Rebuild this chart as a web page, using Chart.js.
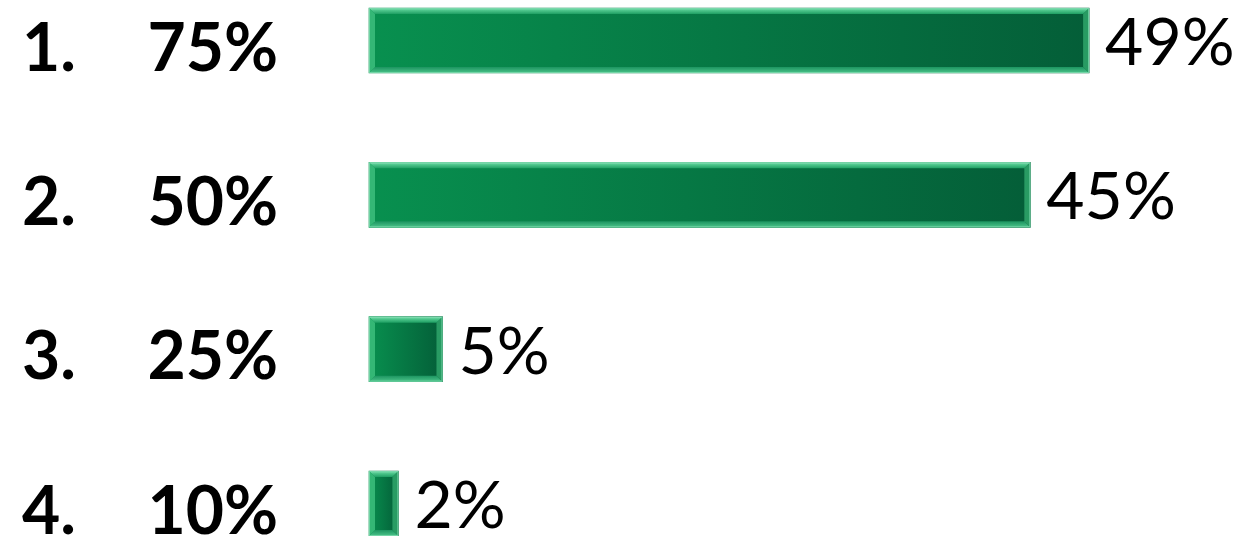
<!DOCTYPE html>
<html>
<head>
<meta charset="utf-8">
<script src="https://cdn.jsdelivr.net/npm/chart.js@4.4.1/dist/chart.umd.min.js"></script>
<style>
  html, body { margin: 0; padding: 0; background: #fff; }
  #wrap { width: 1239px; height: 536px; position: relative; }
</style>
</head>
<body>
<div id="wrap"><canvas id="chartAnswers"></canvas></div>
<script>
const ranks = ['1.', '2.', '3.', '4.'];
const answers = ['75%', '50%', '25%', '10%'];
const votes = [49, 45, 5, 2];

const FONT = 'Lato, "Open Sans", sans-serif';

// gradient per bar, light on the left, dark at the bar end
function barFill(ctx) {
  const chart = ctx.chart;
  if (!chart.chartArea || ctx.type !== 'data') return '#047a48';
  const x = chart.scales.x;
  const g = chart.ctx.createLinearGradient(x.getPixelForValue(0), 0, x.getPixelForValue(ctx.raw), 0);
  g.addColorStop(0, '#08904f');
  g.addColorStop(1, '#045e38');
  return g;
}

// bevelled edges like the office 3d bars
const bevel = {
  id: 'bevel',
  afterDatasetsDraw(chart) {
    const ctx = chart.ctx;
    const b = 6;
    chart.getDatasetMeta(0).data.forEach(bar => {
      const p = bar.getProps(['x', 'y', 'base', 'height'], true);
      const l = Math.min(p.base, p.x), r = Math.max(p.base, p.x);
      const t = p.y - p.height / 2, btm = p.y + p.height / 2;
      const s = Math.min(b, (r - l) / 3);
      const poly = (pts, fill) => {
        ctx.beginPath();
        ctx.moveTo(pts[0][0], pts[0][1]);
        pts.slice(1).forEach(q => ctx.lineTo(q[0], q[1]));
        ctx.closePath();
        ctx.fillStyle = fill;
        ctx.fill();
      };
      ctx.save();
      const gt = ctx.createLinearGradient(0, t, 0, t + s);
      gt.addColorStop(0, '#9ae9c3');
      gt.addColorStop(0.35, '#52c98f');
      gt.addColorStop(1, '#1f9f63');
      poly([[l, t], [r, t], [r - s, t + s], [l + s, t + s]], gt);
      const gb = ctx.createLinearGradient(0, btm - s, 0, btm);
      gb.addColorStop(0, '#1c9460');
      gb.addColorStop(1, '#4cc48a');
      poly([[l, btm], [r, btm], [r - s, btm - s], [l + s, btm - s]], gb);
      poly([[l, t], [l + s, t + s], [l + s, btm - s], [l, btm]], 'rgba(60,190,125,0.85)');
      poly([[r, t], [r - s, t + s], [r - s, btm - s], [r, btm]], 'rgba(50,170,110,0.8)');
      ctx.strokeStyle = 'rgba(120,215,170,0.9)';
      ctx.lineWidth = 1;
      ctx.strokeRect(l + 0.5, t + 0.5, r - l - 1, btm - t - 1);
      ctx.restore();
    });
  }
};

// value labels at the end of each bar
const valueLabels = {
  id: 'valueLabels',
  afterDatasetsDraw(chart) {
    const ctx = chart.ctx;
    const meta = chart.getDatasetMeta(0);
    ctx.save();
    ctx.font = '400 66px ' + FONT;
    ctx.fillStyle = '#000';
    ctx.textAlign = 'left';
    ctx.textBaseline = 'alphabetic';
    meta.data.forEach((bar, i) => {
      ctx.fillText(votes[i] + '%', bar.x + 16, bar.y + 24.5);
    });
    ctx.restore();
  }
};

new Chart(document.getElementById('chartAnswers'), {
  type: 'bar',
  data: {
    labels: ranks.map((r, i) => r + '\u2003\u2004' + answers[i]),
    datasets: [{
      data: votes,
      backgroundColor: barFill,
      borderWidth: 0,
      barThickness: 65,
      clip: false
    }]
  },
  options: {
    indexAxis: 'y',
    responsive: true,
    maintainAspectRatio: false,
    animation: false,
    layout: { padding: { left: 22, right: 0, top: 40.5, bottom: 32.5 } },
    plugins: { legend: { display: false }, tooltip: { enabled: false } },
    scales: {
      x: { display: false, min: 0, max: 59.2 },
      y: {
        offset: false,
        grid: { display: false, drawTicks: false },
        border: { display: false },
        afterFit(scale) { scale.width = 347; },
        ticks: {
          crossAlign: 'far',
          padding: 0,
          labelOffset: 9,
          color: '#000',
          font: { family: FONT, size: 66, weight: 'bold', lineHeight: 0.9 }
        }
      }
    }
  },
  plugins: [bevel, valueLabels]
});
</script>
</body>
</html>
